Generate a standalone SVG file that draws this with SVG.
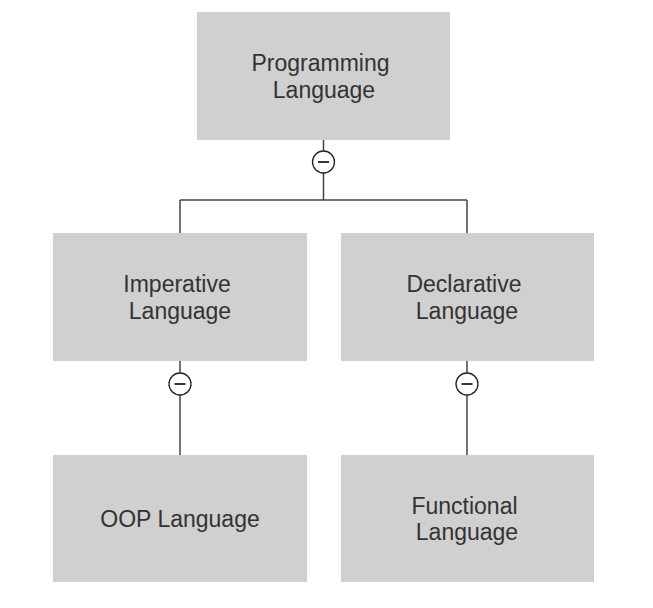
<svg xmlns="http://www.w3.org/2000/svg" width="653" height="608" viewBox="0 0 653 608">
<style>
.box{fill:#d0d0d0;stroke:none}
.lbl{font-family:"Liberation Sans",Arial,sans-serif;font-size:23px;fill:#333333;text-anchor:middle}
.ln{stroke:#444444;stroke-width:1.5;fill:none}
.tog{fill:#ffffff;stroke:#222222;stroke-width:1.3}
.minus{stroke:#222222;stroke-width:1.8}
</style>
<rect width="653" height="608" fill="#ffffff"/>
<g id="connectors">
<path class="ln" d="M323.5 140 V200 M180 200 H467 M180 200 V233 M467 200 V233"/>
<path class="ln" d="M180 361 V455"/>
<path class="ln" d="M467 361 V455"/>
<g><circle class="tog" cx="323.5" cy="162" r="11"/><line class="minus" x1="318" y1="162" x2="329" y2="162"/></g>
<g><circle class="tog" cx="180" cy="384" r="11"/><line class="minus" x1="174.5" y1="384" x2="185.5" y2="384"/></g>
<g><circle class="tog" cx="467" cy="384" r="11"/><line class="minus" x1="461.5" y1="384" x2="472.5" y2="384"/></g>
</g>
<g id="programming">
<rect class="box" x="197" y="12" width="253" height="128"/>
<text class="lbl" x="320.5" y="71">Programming</text>
<text class="lbl" x="324" y="98">Language</text>
</g>
<g id="imperative">
<rect class="box" x="53" y="233" width="254" height="128"/>
<text class="lbl" x="177" y="292">Imperative</text>
<text class="lbl" x="180" y="319">Language</text>
</g>
<g id="declarative">
<rect class="box" x="341" y="233" width="253" height="128"/>
<text class="lbl" x="464" y="292">Declarative</text>
<text class="lbl" x="467" y="319">Language</text>
</g>
<g id="oop">
<rect class="box" x="53" y="455" width="254" height="127"/>
<text class="lbl" x="180" y="527">OOP Language</text>
</g>
<g id="functional">
<rect class="box" x="341" y="455" width="253" height="127"/>
<text class="lbl" x="464.5" y="514">Functional</text>
<text class="lbl" x="467" y="540">Language</text>
</g>
</svg>
